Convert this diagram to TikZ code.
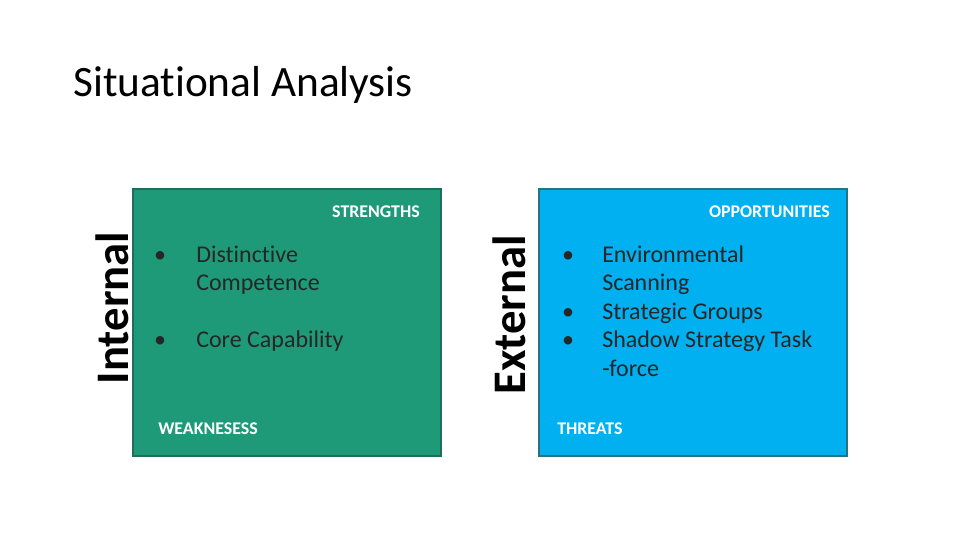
\documentclass[tikz,border=0pt]{standalone}
\usepackage{fontspec}
\setmainfont[Ligatures=NoCommon]{Carlito}
\definecolor{swotgreen}{RGB}{31,154,120}
\definecolor{swotgreenline}{RGB}{30,110,90}
\definecolor{swotblue}{RGB}{0,176,240}
\definecolor{swotblueline}{RGB}{40,115,125}
\tikzset{
  quad/.style={line width=1.5pt},
  tag/.style={inner sep=0pt,text=white,font=\fontsize{13.4}{16}\selectfont\bfseries},
  item/.style={inner sep=0pt,anchor=base west,text=black!85,font=\fontsize{18}{21.6}\selectfont},
  side/.style={inner sep=0pt,rotate=90,font=\fontsize{35}{42}\selectfont\bfseries}
}
\begin{document}
\begin{tikzpicture}[x=0.75pt,y=-0.75pt]
 \useasboundingbox[fill=white] (0,0) rectangle (960,540);
 \node (title) at (73,96) [inner sep=0pt,anchor=base west,font=\fontsize{32.5}{39}\selectfont] {Situational Analysis};
 % internal quadrant
 \draw[quad,fill=swotgreen,draw=swotgreenline] (133,189) rectangle (441,456);
 \node (str) at (420,217) [tag,anchor=base east] {STRENGTHS};
 \node (b1) at (160,262) [item,anchor=base] {\textbullet};
 \node (i1) at (196,262) [item] {Distinctive};
 \node (i1b) at (196,290) [item] {Competence};
 \node (b2) at (160,347) [item,anchor=base] {\textbullet};
 \node (i2) at (196,347) [item] {Core Capability};
 \node (weak) at (158,434) [tag,anchor=base west] {WEAKNESESS};
 \node (int) at (112,308) [side] {Internal};
 % external quadrant
 \draw[quad,fill=swotblue,draw=swotblueline] (539,189) rectangle (847,456);
 \node (opp) at (830,217) [tag,anchor=base east] {OPPORTUNITIES};
 \node (b3) at (568,262) [item,anchor=base] {\textbullet};
 \node (e1) at (602,262) [item] {Environmental};
 \node (e1b) at (602,290) [item] {Scanning};
 \node (b4) at (568,319) [item,anchor=base] {\textbullet};
 \node (e2) at (602,319) [item] {Strategic Groups};
 \node (b5) at (568,347) [item,anchor=base] {\textbullet};
 \node (e3) at (602,347) [item] {Shadow Strategy Task};
 \node (e3b) at (602,376) [item] {-force};
 \node (thr) at (557,434) [tag,anchor=base west] {THREATS};
 \node (ext) at (509,315) [side] {External};
\end{tikzpicture}
\end{document}
